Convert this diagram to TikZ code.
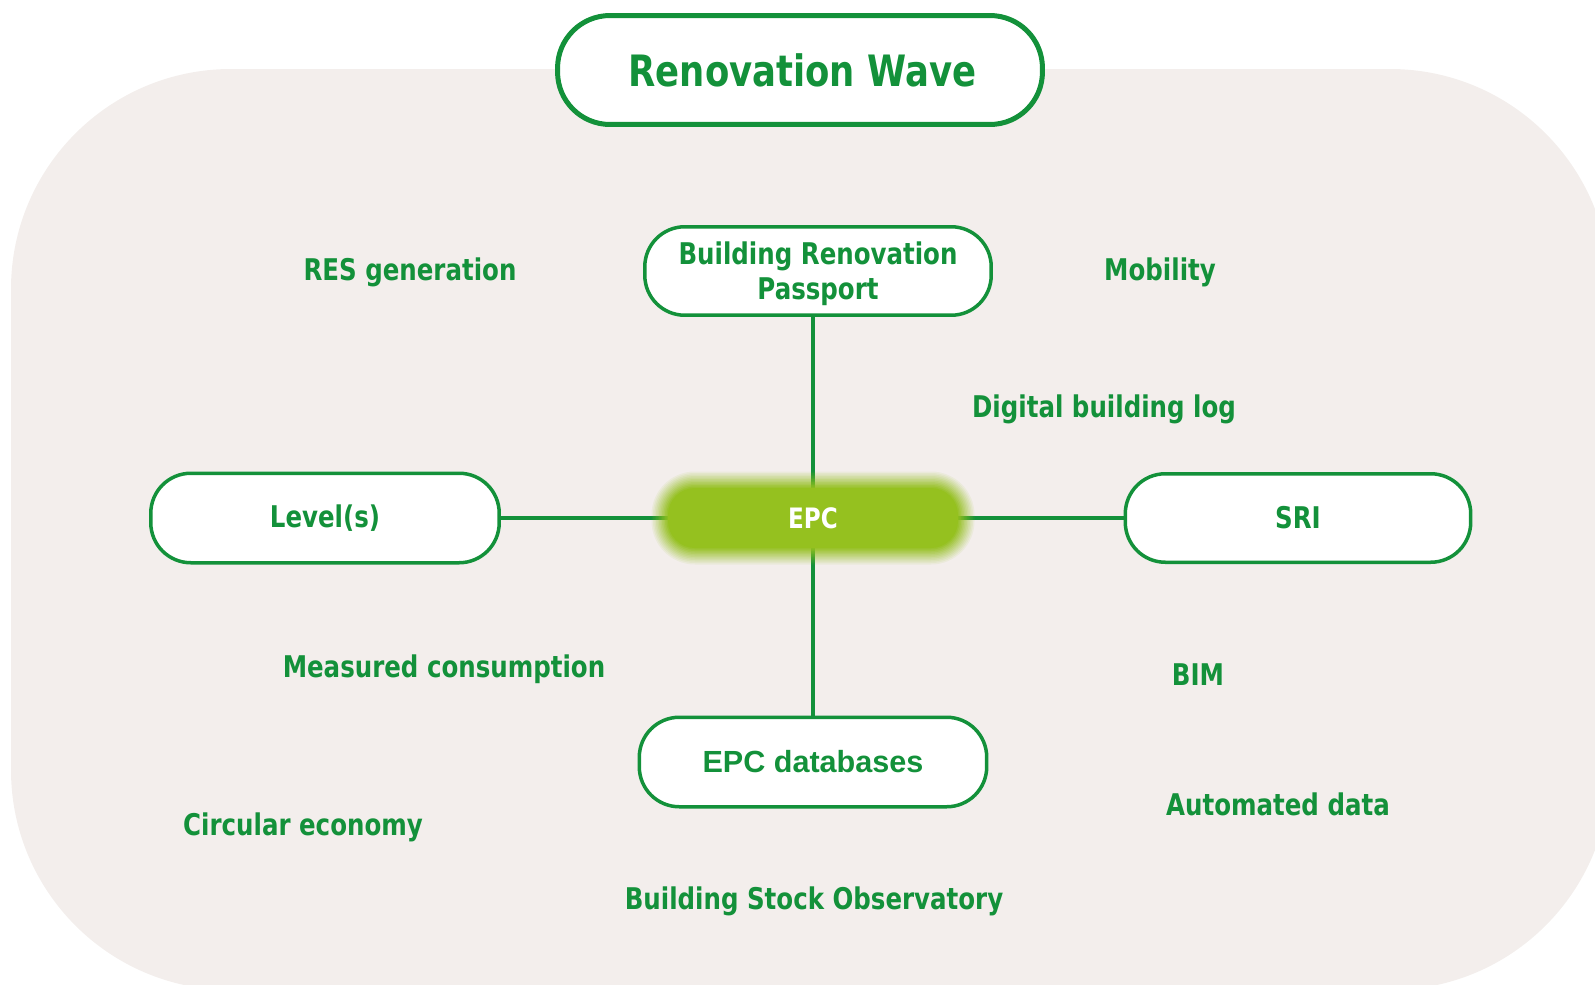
\documentclass[tikz,border=0pt]{standalone}
\usepackage{fontspec}
\setmainfont{DejaVu Sans}[FakeStretch=0.82]
\newfontfamily\arialfont{Liberation Sans}
\usepackage{tikz}
\usetikzlibrary{calc}
\usepackage{xcolor}
\definecolor{wavegreen}{RGB}{19,145,58}
\definecolor{epcglow}{RGB}{149,193,31}
\definecolor{bgrose}{RGB}{243,238,236}
\pgfdeclarelayer{back}
\pgfdeclarelayer{links}
\pgfdeclarelayer{glow}
\pgfsetlayers{back,links,glow,main}
\tikzset
  {pill/.style={draw=wavegreen, fill=white, line width=0.07cm, rounded corners=0.8cm, text=wavegreen, align=center, inner sep=0pt},
   lab/.style={text=wavegreen, anchor=base, inner sep=0pt},
   link/.style={draw=wavegreen, line width=0.07cm}}
\newcommand{\boxfont}{\bfseries\fontsize{17}{20}\selectfont}
\newcommand{\wavefont}{\bfseries\fontsize{24.6}{29}\selectfont}
\newcommand{\dbfont}{\arialfont\bfseries\fontsize{17.4}{20}\selectfont}

\begin{document}
\begin{tikzpicture}[x=0.02cm, y=-0.02cm, every node/.style={font=\boxfont}]
 \useasboundingbox (0,0) rectangle (1595,984);
 \begin{pgfonlayer}{back}
  \clip (0,0) rectangle (1595,984);
  \fill[bgrose, rounded corners=4.4cm] (11,69) rectangle (1610,990);
 \end{pgfonlayer}

 \draw (800,70) node[pill, line width=0.1cm, rounded corners=1.05cm,
                     minimum width=9.7cm, minimum height=2.18cm, font=\wavefont] (wave)
              {\hspace{0.1cm}Renovation Wave};

 \draw (818,271) node[pill, minimum width=6.93cm, minimum height=1.77cm, text depth=0pt] (brp)
              {Building Renovation\\Passport};

 \draw (813,762) node[pill, minimum width=6.95cm, minimum height=1.79cm, font=\dbfont] (db)
              {EPC databases};

 \draw (325,518) node[pill, minimum width=6.97cm, minimum height=1.79cm] (lvl)
              {Level(s)};

 \draw (1298,518) node[pill, minimum width=6.91cm, minimum height=1.77cm] (sri)
              {SRI};

 \draw (813,518) node[text=white, minimum width=5.8cm, minimum height=1.1cm,
                      font=\bfseries\fontsize{16}{19}\selectfont] (epc)
              {EPC};

 \begin{pgfonlayer}{glow}
  \foreach \n in {1,...,12}
   {\pgfmathsetmacro{\d}{(12-\n)*1.5}
    \pgfmathsetmacro{\op}{1/(13-\n)}
    \fill[epcglow, fill opacity=\op, rounded corners={(27+\d)*0.02cm}]
         ($(epc)+(-145-\d,-30-\d)$) rectangle ($(epc)+(145+\d,30+\d)$);}
 \end{pgfonlayer}

 \begin{pgfonlayer}{links}
  \draw[link] (brp.south -| epc) -- (epc);
  \draw[link] (epc) -- (db);
  \draw[link] (lvl) -- (epc);
  \draw[link] (epc) -- (sri);
 \end{pgfonlayer}

 \draw (410,280)  node[lab] (res)   {RES generation};
 \draw (1160,280) node[lab] (mob)   {Mobility};
 \draw (1104,417) node[lab] (dbl)   {Digital building log};
 \draw (444,677)  node[lab] (mcons) {Measured consumption};
 \draw (1198,685) node[lab] (bim)   {BIM};
 \draw (1278,815) node[lab] (auto)  {Automated data};
 \draw (303,835)  node[lab] (circ)  {Circular economy};
 \draw (814,909)  node[lab] (bso)   {Building Stock Observatory};
\end{tikzpicture}
\end{document}
